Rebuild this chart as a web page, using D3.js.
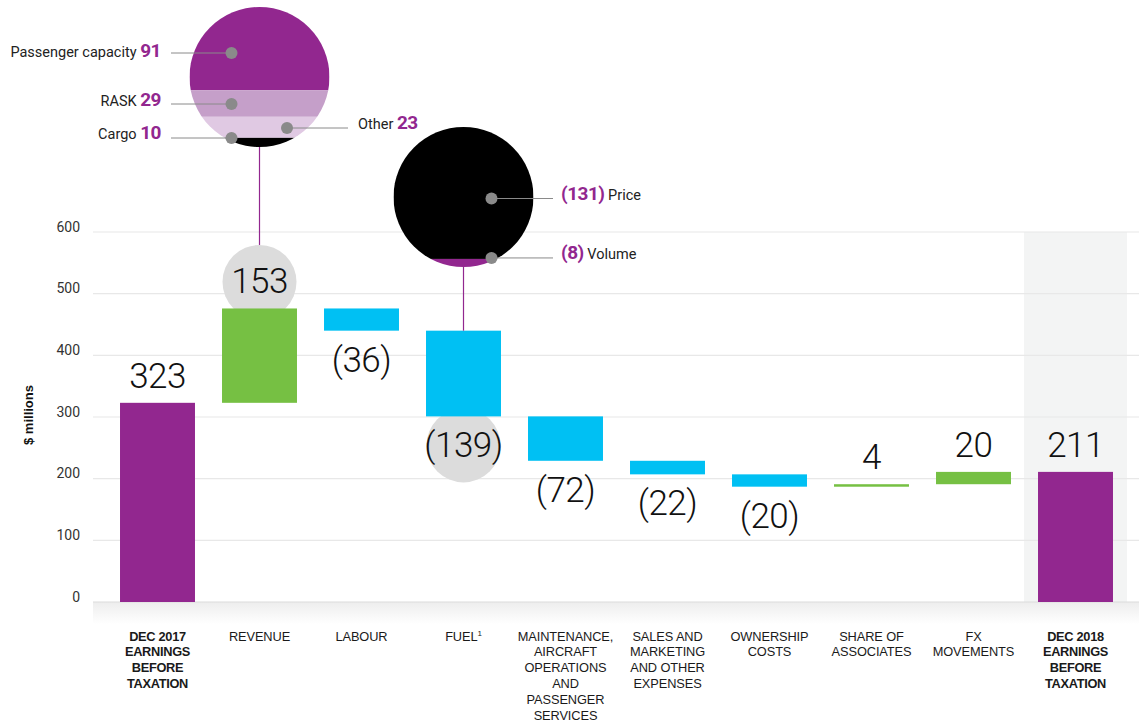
<!DOCTYPE html>
<html>
<head>
<meta charset="utf-8">
<script src="https://cdn.jsdelivr.net/npm/d3@7"></script>
<style>
  html, body { margin: 0; padding: 0; background: #fff; }
  svg { display: block; font-family: Roboto, "Helvetica Neue", Arial, sans-serif; }
</style>
</head>
<body>
<svg id="chart" width="1139" height="721"></svg>
<script>
// Profit bridge, Dec 2017 → Dec 2018 earnings before taxation ($ millions)
const categories = [
  ["DEC 2017", "EARNINGS", "BEFORE", "TAXATION"],
  ["REVENUE"],
  ["LABOUR"],
  ["FUEL"],
  ["MAINTENANCE,", "AIRCRAFT", "OPERATIONS", "AND", "PASSENGER", "SERVICES"],
  ["SALES AND", "MARKETING", "AND OTHER", "EXPENSES"],
  ["OWNERSHIP", "COSTS"],
  ["SHARE OF", "ASSOCIATES"],
  ["FX", "MOVEMENTS"],
  ["DEC 2018", "EARNINGS", "BEFORE", "TAXATION"]
];
const kinds = ["total", "delta", "delta", "delta", "delta", "delta", "delta", "delta", "delta", "total"];
const values = [323, 153, -36, -139, -72, -22, -20, 4, 20, 211];
const valueLabels = ["323", "153", "(36)", "(139)", "(72)", "(22)", "(20)", "4", "20", "211"];
const yTicks = [0, 100, 200, 300, 400, 500, 600];

// Revenue breakdown (stacked top → bottom inside the bubble)
const revenueParts = ["Passenger capacity", "RASK", "Other", "Cargo"];
const revenueValues = [91, 29, 23, 10];
// Fuel breakdown
const fuelParts = ["Price", "Volume"];
const fuelValues = [-131, -8];
const fuelLabels = ["(131)", "(8)"];

const W = 1139, H = 721;
const PURPLE = "#92278f", GREEN = "#76c043", BLUE = "#00c0f3";
const LABEL_FONT = "'Liberation Sans', Arial, sans-serif";
const svg = d3.select("#chart");

const x = d3.scaleBand().domain(d3.range(categories.length))
  .range([106.5, 1126.5]).paddingInner(0.265).paddingOuter(0.1325);
const y = d3.scaleLinear().domain([0, 600]).range([602, 232]);
const cxOf = i => Math.round(x(i) + x.bandwidth() / 2) - 0.5;

// running totals for the waterfall
let run = 0;
const bars = values.map((v, i) => {
  let lo, hi;
  if (kinds[i] === "total") { lo = 0; hi = v; run = v; }
  else { const s = run; run += v; lo = Math.min(s, run); hi = Math.max(s, run); }
  return { i, v, lo, hi, kind: kinds[i] };
});

const defs = svg.append("defs");
const grad = defs.append("linearGradient").attr("id", "shade").attr("x1", 0).attr("x2", 0).attr("y1", 0).attr("y2", 1);
grad.append("stop").attr("offset", "0%").attr("stop-color", "#ededed");
grad.append("stop").attr("offset", "100%").attr("stop-color", "#ffffff");

// shaded column behind the closing total
svg.append("rect")
  .attr("x", x(9) - 14).attr("y", y(600))
  .attr("width", x.bandwidth() + 28).attr("height", y(0) - y(600))
  .attr("fill", "#f3f4f4");

// shadow under the baseline
svg.append("rect").attr("x", 93).attr("y", y(0)).attr("width", W - 93).attr("height", 22)
  .attr("fill", "url(#shade)");

// gridlines and y axis
const yAxis = d3.axisLeft(y).tickValues(yTicks).tickSize(0).tickPadding(0);
const gy = svg.append("g").attr("transform", "translate(80,0)").call(yAxis);
gy.select(".domain").remove();
gy.selectAll("text").attr("font-size", 14).attr("fill", "#333").attr("dy", "-0.05em")
  .attr("font-family", "Roboto, sans-serif");
svg.append("g").selectAll("line").data(yTicks).join("line")
  .attr("x1", 93).attr("x2", W).attr("y1", d => y(d)).attr("y2", d => y(d))
  .attr("stroke", d => d === 0 ? "#dcdcdc" : "#e8e8e8").attr("stroke-width", 1.2);

svg.append("text")
  .attr("transform", `translate(33,${y(300) - 2}) rotate(-90)`)
  .attr("text-anchor", "middle").attr("font-size", 13).attr("font-weight", 700)
  .attr("font-family", LABEL_FONT)
  .attr("fill", "#111").text("$ millions");

// connector bubbles (light grey discs behind value labels)
const bubbleIdx = [1, 3];
bars.forEach(b => {
  if (!bubbleIdx.includes(b.i)) return;
  const cx = x(b.i) + x.bandwidth() / 2;
  const cy = b.v >= 0 ? y(b.hi) - 26.5 : y(b.lo) + 29;
  svg.append("circle").attr("cx", cx).attr("cy", cy).attr("r", 37).attr("fill", "#dcdcdc");
});

// bars
svg.append("g").selectAll("rect").data(bars).join("rect")
  .attr("x", d => x(d.i)).attr("width", x.bandwidth())
  .attr("y", d => y(d.hi)).attr("height", d => Math.max(2.5, y(d.lo) - y(d.hi)))
  .attr("fill", d => d.kind === "total" ? PURPLE : (d.v >= 0 ? GREEN : BLUE));

// value labels
svg.append("g").selectAll("text").data(bars).join("text")
  .attr("x", d => x(d.i) + x.bandwidth() / 2)
  .attr("y", d => d.v >= 0 ? y(d.hi) - 15 : y(d.lo) + 41)
  .attr("text-anchor", "middle").attr("font-size", 35).attr("font-weight", 300)
  .attr("letter-spacing", "-0.5").attr("fill", "#111")
  .text(d => valueLabels[d.i]);

// category labels
const gx = svg.append("g").attr("font-family", LABEL_FONT);
categories.forEach((lines, i) => {
  const t = gx.append("text")
    .attr("x", x(i) + x.bandwidth() / 2).attr("y", 640.5)
    .attr("text-anchor", "middle").attr("font-size", 12.8)
    .attr("font-weight", kinds[i] === "total" ? 700 : 400)
    .attr("fill", "#1a1a1a").attr("letter-spacing", kinds[i] === "total" ? "-0.3" : "-0.1");
  lines.forEach((ln, k) => {
    const ts = t.append("tspan").attr("x", x(i) + x.bandwidth() / 2).attr("dy", k === 0 ? 0 : 15.8).text(ln);
    if (i === 3 && k === 0) ts.append("tspan").attr("font-size", 8).attr("dy", -5).text("1");
  });
});

// ---- breakdown bubbles ----
function breakdown(cx, cy, r, parts, colours, id) {
  const total = d3.sum(parts, d => Math.abs(d));
  const h = d3.scaleLinear().domain([0, total]).range([cy - r, cy + r]);
  defs.append("clipPath").attr("id", id).append("circle").attr("cx", cx).attr("cy", cy).attr("r", r);
  const g = svg.append("g").attr("clip-path", `url(#${id})`);
  let acc = 0;
  const bands = parts.map((p, k) => {
    const a = acc; acc += Math.abs(p);
    return { k, y0: h(a), y1: h(acc) };
  });
  g.selectAll("rect").data(bands).join("rect")
    .attr("x", cx - r).attr("width", 2 * r)
    .attr("y", d => d.y0).attr("height", d => d.y1 - d.y0)
    .attr("fill", d => colours[d.k]);
  return bands;
}

function dot(cx, cy) {
  svg.append("circle").attr("cx", cx).attr("cy", cy).attr("r", 6).attr("fill", "#8a8a8a");
}
function leader(x1, x2, yy) {
  svg.append("line").attr("x1", x1).attr("x2", x2).attr("y1", yy).attr("y2", yy)
    .attr("stroke", "#8a8a8a").attr("stroke-width", 1);
}

// revenue bubble
const revX = x(1) + x.bandwidth() / 2, revY = 77, R = 70;
svg.append("line").attr("x1", cxOf(1)).attr("x2", cxOf(1)).attr("y1", revY + R).attr("y2", y(bars[1].hi) - 26.5 - 37)
  .attr("stroke", PURPLE).attr("stroke-width", 1.2);
breakdown(revX, revY, R, revenueValues, [PURPLE, "#c59fc9", "#e0c9e3", "#000"], "clipRev");

// fuel bubble
const fuelX = x(3) + x.bandwidth() / 2, fuelY = 197;
svg.append("line").attr("x1", cxOf(3)).attr("x2", cxOf(3)).attr("y1", fuelY + R).attr("y2", y(bars[3].hi))
  .attr("stroke", PURPLE).attr("stroke-width", 1.2);
const fuelBands = breakdown(fuelX, fuelY, R, fuelValues, ["#000", PURPLE], "clipFuel");

// revenue callouts
function leftLabel(yy, name, val) {
  const t = svg.append("text").attr("x", 161).attr("y", yy).attr("text-anchor", "end").attr("fill", "#222");
  t.append("tspan").attr("font-size", 14.5).text(name + " ");
  t.append("tspan").attr("font-size", 19).attr("font-weight", 700).attr("fill", PURPLE)
    .attr("letter-spacing", "-0.5").text(val);
}
const dotX = revX - 28;
leader(171, dotX, 53); dot(dotX, 53);
leftLabel(57, revenueParts[0], revenueValues[0]);
leader(171, dotX, 104); dot(dotX, 104);
leftLabel(106, revenueParts[1], revenueValues[1]);
leader(171, dotX, 138); dot(dotX, 138);
leftLabel(139, revenueParts[3], revenueValues[3]);

leader(287, 348, 128); dot(287, 128);
{
  const t = svg.append("text").attr("x", 358).attr("y", 129).attr("fill", "#222");
  t.append("tspan").attr("font-size", 14.5).text(revenueParts[2] + " ");
  t.append("tspan").attr("font-size", 19).attr("font-weight", 700).attr("fill", PURPLE)
    .attr("letter-spacing", "-0.5").text(revenueValues[2]);
}

// fuel callouts
function rightLabel(yy, val, name) {
  const t = svg.append("text").attr("x", 561).attr("y", yy).attr("fill", "#222");
  t.append("tspan").attr("font-size", 19).attr("font-weight", 700).attr("fill", PURPLE)
    .attr("letter-spacing", "-0.5").text(val);
  t.append("tspan").attr("font-size", 14.5).text(" " + name);
}
const fDotX = fuelX + 28;
leader(fDotX, 553, 198.5); dot(fDotX, 198.5);
rightLabel(200, fuelLabels[0], fuelParts[0]);
leader(fDotX, 553, fuelBands[1].y0 - 1); dot(fDotX, fuelBands[1].y0 - 1);
rightLabel(259, fuelLabels[1], fuelParts[1]);
</script>
</body>
</html>
